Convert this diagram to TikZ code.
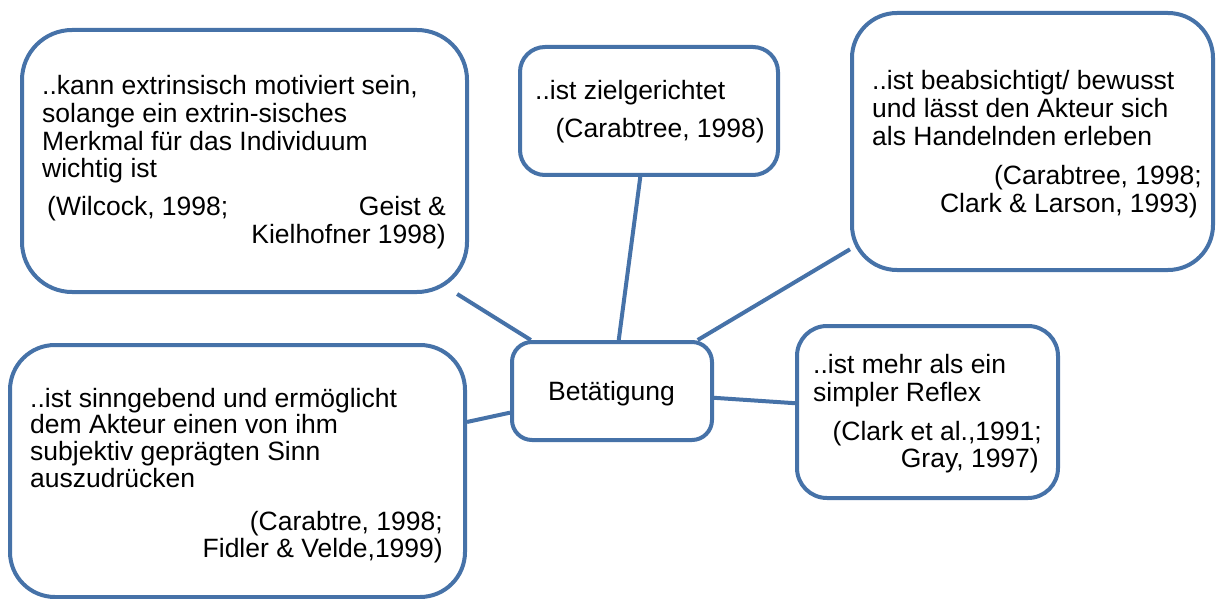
\documentclass[tikz,border=0pt]{standalone}
\usepackage{fontspec}
\setmainfont{Liberation Sans}
\definecolor{bl}{RGB}{70,114,168}
\begin{document}
\begin{tikzpicture}[x=1pt,y=-1pt,
  box/.style={draw=bl, line width=4pt, fill=white, rectangle, inner sep=0pt},
  conn/.style={draw=bl, line width=4pt},
  txt/.style={inner sep=0pt, font=\fontsize{26.5}{27.5}\selectfont},
  tl/.style={txt, anchor=base west},
  tr/.style={txt, anchor=base east}]
\useasboundingbox (0,0) rectangle (1216,599);
% boxes
\node[box, minimum width=445pt, minimum height=262pt, rounded corners=50pt] (A) at (244.5,161) {};
\node[box, minimum width=258pt, minimum height=128pt, rounded corners=25pt] (B) at (649,111) {};
\node[box, minimum width=361pt, minimum height=257pt, rounded corners=45pt] (C) at (1032.5,141.5) {};
\node[box, minimum width=455pt, minimum height=252pt, rounded corners=45pt] (D) at (237.5,471) {};
\node[box, minimum width=200pt, minimum height=98pt, rounded corners=20pt] (E) at (612,391) {};
\node[box, minimum width=261pt, minimum height=172pt, rounded corners=30pt] (F) at (927.5,412) {};
% connectors
\draw[conn] (A) -- (E);
\draw[conn] (B) -- (E);
\draw[conn] (C) -- (E);
\draw[conn] (D) -- (E);
\draw[conn] (E) -- (F);
% texts A
\node[tl] (a1) at (42,95) {..kann extrinsisch motiviert sein,};
\node[tl] (a2) at (42,123) {solange ein extrin-sisches};
\node[tl] (a3) at (42,151) {Merkmal für das Individuum};
\node[tl] (a4) at (42,178) {wichtig ist};
\node[tl] (a5) at (47,215) {(Wilcock, 1998;};
\node[tr] (a6) at (446,215) {Geist \&};
\node[tr] (a7) at (446,243) {Kielhofner 1998)};
% texts B
\node[tl] (b1) at (535,100) {..ist zielgerichtet};
\node[tr] (b2) at (765,138) {(Carabtree, 1998)};
% texts C
\node[tl] (c1) at (872,90) {..ist beabsichtigt/ bewusst};
\node[tl] (c2) at (872,118) {und lässt den Akteur sich};
\node[tl] (c3) at (872,146) {als Handelnden erleben};
\node[tr] (c4) at (1202,185) {(Carabtree, 1998;};
\node[tr] (c5) at (1198,212) {Clark \& Larson, 1993)};
% texts D
\node[tl] (d1) at (30,407) {..ist sinngebend und ermöglicht};
\node[tl] (d2) at (30,433) {dem Akteur einen von ihm};
\node[tl] (d3) at (30,460) {subjektiv geprägten Sinn};
\node[tl] (d4) at (30,487) {auszudrücken};
\node[tr] (d5) at (443,530) {(Carabtre, 1998;};
\node[tr] (d6) at (443,557) {Fidler \& Velde,1999)};
% text E
\node[txt, anchor=base] (e1) at (611.5,400) {Betätigung};
% texts F
\node[tl] (f1) at (813,373) {..ist mehr als ein};
\node[tl] (f2) at (813,401) {simpler Reflex};
\node[tr] (f3) at (1042,440) {(Clark et al.,1991;};
\node[tr] (f4) at (1039,467) {Gray, 1997)};
\end{tikzpicture}
\end{document}
